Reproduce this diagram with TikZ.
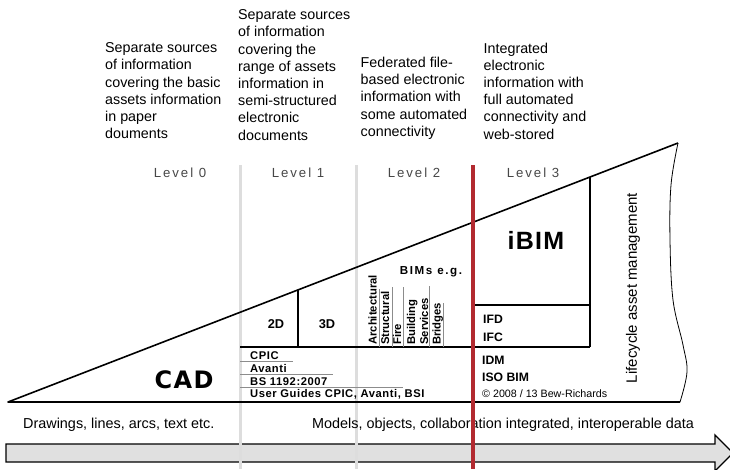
\documentclass[tikz,border=0pt]{standalone}
\usepackage{fontspec}
\setmainfont{Liberation Sans}
\newfontfamily\levelfont[LetterSpace=15]{Liberation Sans}
\newfontfamily\tagfont[LetterSpace=5]{Liberation Sans}
\newfontfamily\widefont[LetterSpace=14]{Liberation Sans}
\newfontfamily\heavyfont[LetterSpace=6]{DejaVu Sans}
\usepackage{tikz}
\usetikzlibrary{arrows.meta,positioning}
\usepackage{xcolor}
\definecolor{levelred}{HTML}{B22A30}
\definecolor{levelgrey}{HTML}{DDDDDD}
\definecolor{arrowgrey}{HTML}{E0E0E0}

\begin{document}
\begin{tikzpicture}[
  x=1pt, y=-1pt,
  desc/.style={
    anchor=north west,
    align=left,
    inner sep=0pt,
    font=\fontsize{14.3}{17.2}\selectfont
  },
  level/.style={
    anchor=base,
    inner sep=0pt,
    text=black!72,
    font=\levelfont\fontsize{13.2}{13.2}\selectfont
  },
  tag/.style={
    anchor=base west,
    inner sep=0pt,
    font=\tagfont\bfseries\fontsize{11.2}{11.2}\selectfont
  },
  vtag/.style={
    rotate=90,
    anchor=base west,
    inner sep=0pt,
    font=\bfseries\fontsize{11.3}{11.3}\selectfont
  },
  stdtag/.style={
    anchor=base west,
    inner sep=0pt,
    font=\bfseries\fontsize{12.2}{12.2}\selectfont
  },
  note/.style={
    anchor=base west,
    inner sep=0pt,
    font=\fontsize{14.4}{14.4}\selectfont
  },
  wedge/.style={
    line width=1.6pt,
    line join=round
  },
  split/.style={
    line width=1.3pt
  },
  uline/.style={
    line width=0.8pt,
    draw=black!45
  }
]
\useasboundingbox (0,0) rectangle (730,469);
\clip (0,0) rectangle (730,469);

% Progress arrow
\draw[line width=1.3pt, fill=arrowgrey]
  (6,444) -- (715,444) -- (715,435) -- (733,453) -- (715,471)
  -- (715,462) -- (6,462) -- cycle;

% Level dividers
\draw[levelgrey, line width=3pt] (240,165) -- (240,469);
\draw[levelgrey, line width=3pt] (356,165) -- (356,469);

% Wedge
\coordinate (apex) at (8,402);
\coordinate (tip) at (678,143);
\coordinate (foot) at (680,402);
\draw[wedge] (tip) -- (apex) -- (foot);
\draw[line width=0.8pt] plot[smooth, tension=0.6] coordinates
  {(678,143) (671,185) (670,240) (673,300) (683,345) (687,372) (680,402)};

% Inner divisions
\draw[split] (240,347) -- (590,347);
\draw[split] (298,289.9) -- (298,347);
\draw[split] (590,177) -- (590,347);
\draw[split] (473,305) -- (590,305);

% Standards underlines
\draw[uline] (240,361) -- (293,361);
\draw[uline] (240,374) -- (333,374);
\draw[uline] (240,387) -- (403,387);
\draw[uline] (379,289) -- (379,347);
\draw[uline] (392,287) -- (392,347);
\draw[uline] (403,287) -- (403,347);
\draw[uline] (429,286) -- (429,347);
\draw[uline] (443,303) -- (443,347);

% Descriptions
\node[desc] (d0) at (105,42.5)
  {Separate sources\\of information\\covering the basic\\assets information\\in paper\\douments};
\node[desc] (d1) at (238,9.5)
  {Separate sources\\of information\\covering the\\range of assets\\information in\\semi-structured\\electronic\\documents};
\node[desc] (d2) at (360.5,57)
  {Federated file-\\based electronic\\information with\\some automated\\connectivity};
\node[desc] (d3) at (483.5,42.5)
  {Integrated\\electronic\\information with\\full automated\\connectivity and\\web-stored};

% Level labels
\node[level] (l0) at (180,177) {Level 0};
\node[level] (l1) at (298,177) {Level 1};
\node[level] (l2) at (414,177) {Level 2};
\node[level] (l3) at (533,177) {Level 3};

% Level 0 and 1
\node[anchor=base, inner sep=0pt, font=\heavyfont\bfseries\fontsize{24}{24}\selectfont]
  (cad) at (184,388) {CAD};
\node[stdtag, anchor=base, font=\bfseries\fontsize{12.8}{12.8}\selectfont] (twod) at (276,328) {2D};
\node[stdtag, anchor=base, font=\bfseries\fontsize{12.8}{12.8}\selectfont] (threed) at (327,328) {3D};
\node[tag] (cpic) at (250,359) {CPIC};
\node[tag] (avanti) at (250,372.5) {Avanti};
\node[tag] (bs) at (250,385) {BS 1192:2007};
\node[tag] (guides) at (250,397.5) {User Guides CPIC, Avanti, BSI};

% Level 2
\node[anchor=base, inner sep=0pt, font=\widefont\bfseries\fontsize{11.6}{11.6}\selectfont]
  (bims) at (431,274) {BIMs e.g.};
\node[vtag] (arch) at (376.5,345) {Architectural};
\node[vtag] (struct) at (389,345) {Structural};
\node[vtag] (fire) at (401,345) {Fire};
\node[vtag] (build) at (415,345) {Building};
\node[vtag] (serv) at (428,345) {Services};
\node[vtag] (bridge) at (440.5,345) {Bridges};

% Level 3
\node[anchor=base, inner sep=0pt, font=\tagfont\bfseries\fontsize{25}{25}\selectfont]
  (ibim) at (536,249) {iBIM};
\node[stdtag] (ifd) at (483,323) {IFD};
\node[stdtag] (ifc) at (483,341) {IFC};
\node[stdtag] (idm) at (482,364) {IDM};
\node[stdtag] (iso) at (482,381) {ISO BIM};
\node[anchor=base west, inner sep=0pt, font=\fontsize{10.7}{10.7}\selectfont]
  (copy) at (482,397) {\textcopyright{} 2008 / 13 Bew-Richards};
\node[rotate=90, inner sep=0pt, font=\fontsize{15}{15}\selectfont]
  (life) at (633,288) {Lifecycle asset management};

% Arrow captions
\node[note] (draw) at (23,428) {Drawings, lines, arcs, text etc.};
\node[note] (models) at (312,428)
  {Models, objects, collaboration integrated, interoperable data};

% Level 2/3 boundary
\draw[levelred, line width=4pt] (473,165) -- (473,469);

\end{tikzpicture}
\end{document}
